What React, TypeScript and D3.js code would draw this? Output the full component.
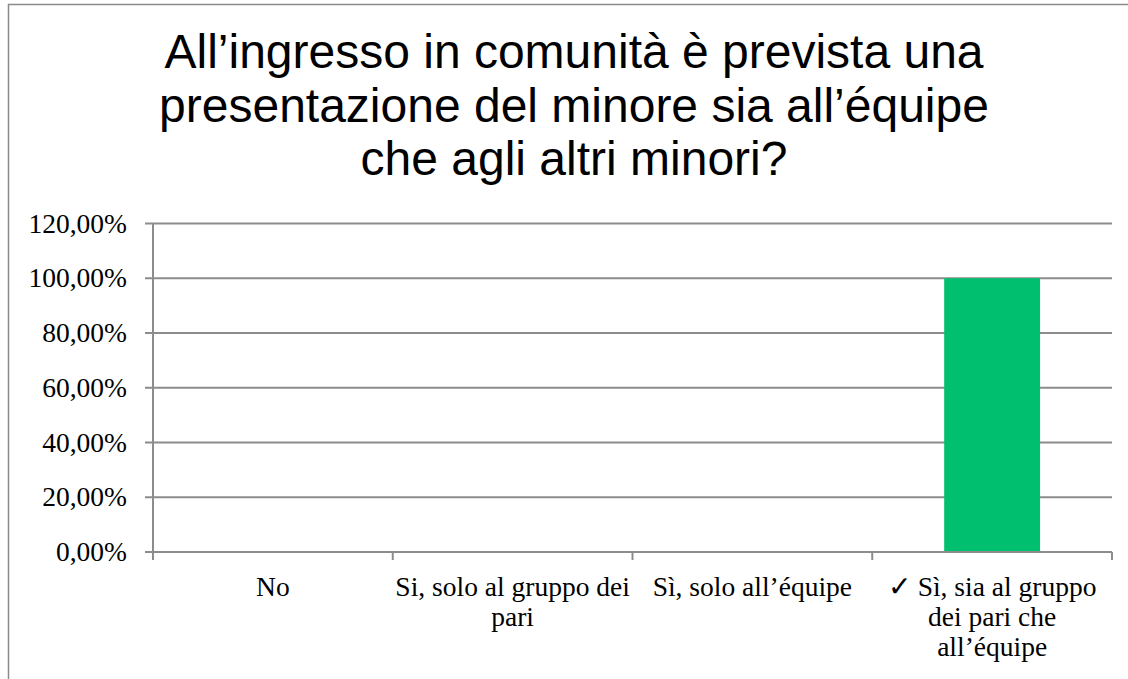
import React from "react";
import * as d3 from "d3";

const titleLines = [
  "All’ingresso in comunità è prevista una",
  "presentazione del minore sia all’équipe",
  "che agli altri minori?",
];
const categories = [
  "No",
  "Si, solo al gruppo dei pari",
  "Sì, solo all’équipe",
  "✓ Sì, sia al gruppo dei pari che all’équipe",
];
const categoryLines = [
  ["No"],
  ["Si, solo al gruppo dei", "pari"],
  ["Sì, solo all’équipe"],
  ["✓ Sì, sia al gruppo", "dei pari che", "all’équipe"],
];
const values = [0, 0, 0, 1.0];
const yTicks = [0, 0.2, 0.4, 0.6, 0.8, 1.0, 1.2];

const W = 1128;
const H = 679;
const plot = { left: 153, right: 1112, top: 223.5, bottom: 552 };
const gridColor = "#8c8c8c";
const barColor = "#00C06F";
const serif = "'Liberation Serif', 'Times New Roman', serif";
const sans = "'Liberation Sans', Arial, sans-serif";

const it = d3.formatLocale({
  decimal: ",",
  thousands: ".",
  grouping: [3],
  currency: ["", "€"],
});
const fmt = it.format(".2%");

export default function App() {
  const x = d3
    .scaleBand<string>()
    .domain(categories)
    .range([plot.left, plot.right])
    .paddingInner(0)
    .paddingOuter(0);
  const y = d3.scaleLinear().domain([0, 1.2]).range([plot.bottom, plot.top]);
  const bw = x.bandwidth();
  const barW = bw / 2.5;
  const boundaries = [...categories.map((c) => x(c) as number), plot.right];

  return (
    <div style={{ position: "fixed", left: 0, top: 0 }}>
      <svg width={W} height={H} style={{ display: "block", background: "#fff" }}>
        <rect x={0} y={0} width={W} height={H} fill="#fff" />
        <rect
          x={8.5}
          y={4.5}
          width={W + 20}
          height={H + 20}
          fill="none"
          stroke="#8a8a8a"
          strokeWidth={1.5}
        />
        {titleLines.map((t, i) => (
          <text
            key={i}
            x={574}
            y={68 + i * 53.5}
            textAnchor="middle"
            fontFamily={sans}
            fontSize={48}
            fill="#000"
          >
            {t}
          </text>
        ))}
        {yTicks.map((t) => (
          <g key={t}>
            <line
              x1={plot.left - 8}
              x2={plot.right}
              y1={y(t)}
              y2={y(t)}
              stroke={gridColor}
              strokeWidth={2}
            />
            <text
              x={127}
              y={y(t)}
              dy="0.33em"
              textAnchor="end"
              fontFamily={serif}
              fontSize={27.5}
              fill="#000"
            >
              {fmt(t)}
            </text>
          </g>
        ))}
        {categories.map((c, i) => (
          <rect
            key={c}
            x={(x(c) as number) + (bw - barW) / 2}
            y={y(values[i])}
            width={barW}
            height={y(0) - y(values[i])}
            fill={barColor}
          />
        ))}
        <line
          x1={plot.left}
          x2={plot.left}
          y1={plot.top}
          y2={plot.bottom + 8}
          stroke={gridColor}
          strokeWidth={2}
        />
        <line
          x1={plot.left - 8}
          x2={plot.right}
          y1={plot.bottom}
          y2={plot.bottom}
          stroke={gridColor}
          strokeWidth={2}
        />
        {boundaries.map((b, i) => (
          <line
            key={i}
            x1={b}
            x2={b}
            y1={plot.bottom}
            y2={plot.bottom + 8}
            stroke={gridColor}
            strokeWidth={2}
          />
        ))}
        {categories.map((c, i) => (
          <text
            key={c}
            x={(x(c) as number) + bw / 2}
            textAnchor="middle"
            fontFamily={serif}
            fontSize={27.5}
            fill="#000"
          >
            {categoryLines[i].map((l, j) => (
              <tspan key={j} x={(x(c) as number) + bw / 2} y={596 + j * 30}>
                {l}
              </tspan>
            ))}
          </text>
        ))}
      </svg>
    </div>
  );
}
